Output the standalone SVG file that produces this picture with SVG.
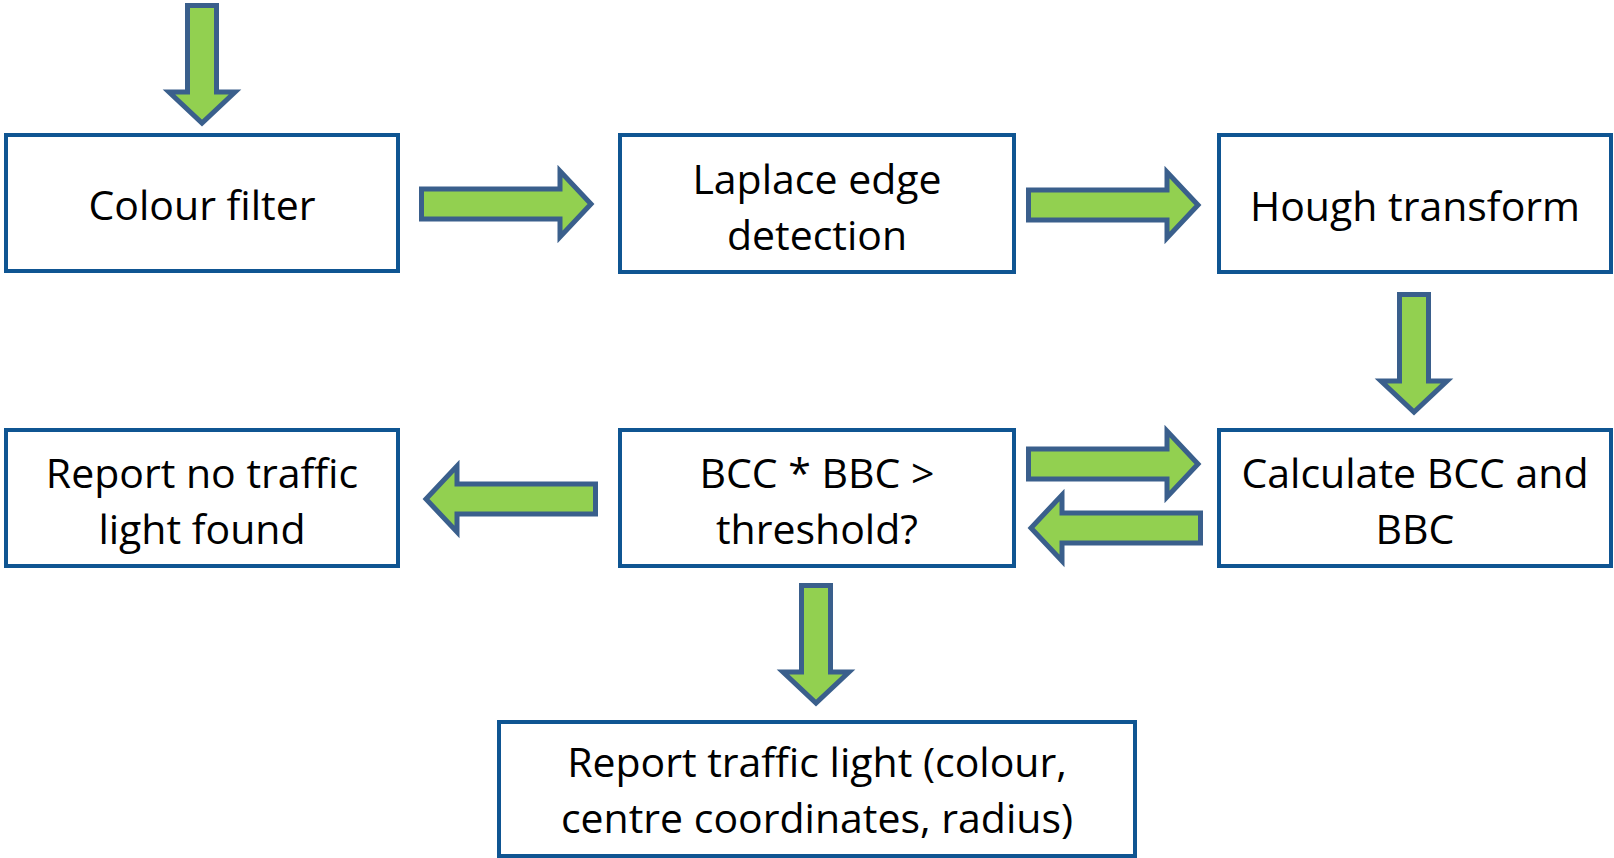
<svg xmlns="http://www.w3.org/2000/svg" width="1614" height="858" viewBox="0 0 1614 858">
  <defs>
    <style>
      .box { fill: #ffffff; stroke: #0F5592; stroke-width: 4; }
      .label { font-family: "Open Sans", "Liberation Sans", sans-serif; font-size: 41px; fill: #000000; text-anchor: middle; }
      .arrow { fill: #92D050; stroke: #3A5F8C; stroke-width: 5; stroke-linejoin: miter; stroke-miterlimit: 10; }
    </style>
    <!-- block arrows, drawn pointing right / down from the origin -->
    <path id="arrowRight" d="M 2.5,-15 H 141 V -33 L 172,0 L 141,33 V 15 H 2.5 Z"/>
    <path id="arrowDown" d="M -14.5,2.5 V 89 H -33 L 0,120 L 33,89 H 14.5 V 2.5 Z"/>
  </defs>

  <rect width="1614" height="858" fill="#ffffff"/>

  <g id="connectors">
    <use href="#arrowDown" class="arrow" x="202" y="3"/>
    <use href="#arrowRight" class="arrow" x="419" y="204"/>
    <use href="#arrowRight" class="arrow" x="1026" y="205"/>
    <use href="#arrowDown" class="arrow" x="1414" y="292"/>
    <use href="#arrowRight" class="arrow" x="1026" y="464"/>
    <use href="#arrowRight" class="arrow" transform="translate(1203,528) scale(-1,1)"/>
    <use href="#arrowRight" class="arrow" transform="translate(598,499) scale(-1,1)"/>
    <use href="#arrowDown" class="arrow" x="816" y="583"/>
  </g>

  <g id="colour-filter">
    <rect class="box" x="6" y="135" width="392" height="136"/>
    <text class="label" x="202" y="220">Colour filter</text>
  </g>

  <g id="laplace-edge-detection">
    <rect class="box" x="620" y="135" width="394" height="137"/>
    <text class="label" x="817" y="194">Laplace edge</text>
    <text class="label" x="817" y="250">detection</text>
  </g>

  <g id="hough-transform">
    <rect class="box" x="1219" y="135" width="392" height="137"/>
    <text class="label" x="1415" y="221">Hough transform</text>
  </g>

  <g id="calculate-bcc-bbc">
    <rect class="box" x="1219" y="430" width="392" height="136"/>
    <text class="label" x="1415" y="488">Calculate BCC and</text>
    <text class="label" x="1415" y="544">BBC</text>
  </g>

  <g id="threshold-check">
    <rect class="box" x="620" y="430" width="394" height="136"/>
    <text class="label" x="817" y="488">BCC * BBC &gt;</text>
    <text class="label" x="817" y="544">threshold?</text>
  </g>

  <g id="report-no-light">
    <rect class="box" x="6" y="430" width="392" height="136"/>
    <text class="label" x="202" y="488">Report no traffic</text>
    <text class="label" x="202" y="544">light found</text>
  </g>

  <g id="report-light">
    <rect class="box" x="499" y="722" width="636" height="134"/>
    <text class="label" x="817" y="777">Report traffic light (colour,</text>
    <text class="label" x="817" y="833">centre coordinates, radius)</text>
  </g>
</svg>
